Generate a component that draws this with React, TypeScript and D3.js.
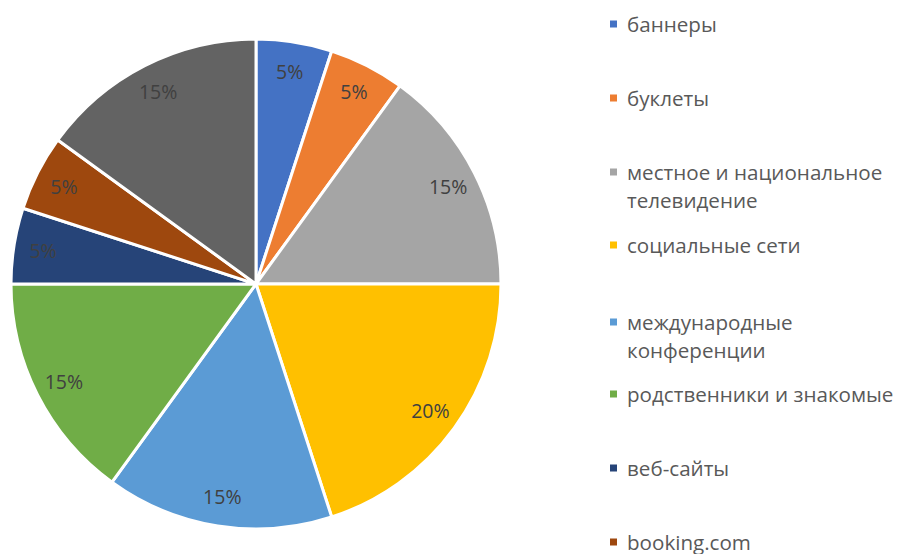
import React from "react";
import * as d3 from "d3";

const categories = [
  "баннеры",
  "буклеты",
  "местное и национальное телевидение",
  "социальные сети",
  "международные конференции",
  "родственники и знакомые",
  "веб-сайты",
  "booking.com",
  "другое",
];
const values = [5, 5, 15, 20, 15, 15, 5, 5, 15];
const colors = ["#4472C4", "#ED7D31", "#A5A5A5", "#FFC000", "#5B9BD5", "#70AD47", "#264478", "#9E480E", "#636363"];
const legendLines = [
  ["баннеры"],
  ["буклеты"],
  ["местное и национальное", "телевидение"],
  ["социальные сети"],
  ["международные", "конференции"],
  ["родственники и знакомые"],
  ["веб-сайты"],
  ["booking.com"],
];
const legendY = [24, 98, 172, 245, 322, 394, 468, 542];

export default function App() {
  const W = 898, H = 554;
  const cx = 256, cy = 284, R = 245;
  const pie = d3.pie<number>().sort(null).value((d) => d)(values);
  const arc = d3.arc<d3.PieArcDatum<number>>().innerRadius(0).outerRadius(R);
  const labelArc = d3.arc<d3.PieArcDatum<number>>().innerRadius(R * 0.88).outerRadius(R * 0.88);
  const total = d3.sum(values);
  const font = "'Open Sans', sans-serif";
  return (
    <svg width={W} height={H} style={{ position: "absolute", left: 0, top: 0 }}>
      <rect width={W} height={H} fill="#fff" />
      <g transform={`translate(${cx},${cy})`}>
        {pie.map((p, i) => (
          <path key={i} d={arc(p) || ""} fill={colors[i]} stroke="#fff" strokeWidth={3} strokeLinejoin="round" />
        ))}
        {pie.map((p, i) => {
          const [x, y] = labelArc.centroid(p);
          return (
            <text key={"l" + i} x={x} y={y} textAnchor="middle" dominantBaseline="central"
              fontFamily={font} fontSize={19.5} fill="#404040">
              {Math.round((values[i] / total) * 100)}%
            </text>
          );
        })}
      </g>
      {legendLines.map((lines, i) => (
        <g key={"lg" + i}>
          <rect x={610} y={legendY[i] - 3.5} width={7} height={7} fill={colors[i]} />
          {lines.map((t, j) => (
            <text key={j} x={627} y={legendY[i] + j * 28} dominantBaseline="central"
              fontFamily={font} fontSize={20.6} fill="#595959">{t}</text>
          ))}
        </g>
      ))}
    </svg>
  );
}
